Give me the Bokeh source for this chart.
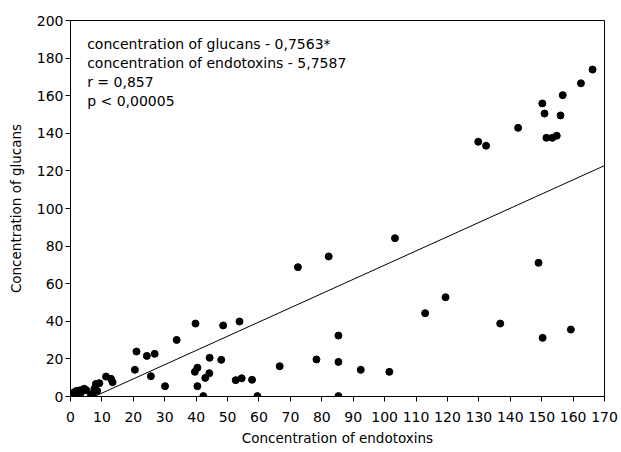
import numpy as np
from bokeh.plotting import figure
from bokeh.models import Range1d, Label, FixedTicker
from bokeh.embed import file_html
from bokeh.resources import INLINE

# ---- data ----
endotoxins = [
    166.2, 162.5, 156.7, 150.2, 150.9, 156.0, 142.5, 129.8, 132.3, 151.5, 153.4, 154.8,
    119.4, 149.0, 136.8, 150.3, 159.3,
    112.9, 85.3, 78.3, 85.3, 66.6, 92.4, 101.5, 57.8, 59.5, 85.3,
    103.3, 82.2, 72.4,
    39.8, 48.6, 53.8, 33.8, 21.0, 24.3, 26.8, 20.5, 25.6, 30.1,
    44.3, 48.0, 39.6, 40.4, 44.2, 42.9, 40.4, 42.3, 52.6, 54.5,
    11.3, 12.9, 13.4, 9.2, 8.1, 7.6, 7.0, 6.5, 8.5, 4.4, 2.8, 1.2,
    0.2, 0.5, 1.5, 2.2, 3.3, 3.8, 2.0, 1.0, 0.8, 5.0,
]
glucans = [
    173.9, 166.6, 160.3, 155.9, 150.5, 149.5, 142.9, 135.5, 133.4, 137.6, 137.6, 138.7,
    52.8, 71.1, 38.8, 31.2, 35.6,
    44.3, 32.4, 19.7, 18.4, 16.1, 14.2, 13.1, 8.9, 0.2, 0.2,
    84.2, 74.5, 68.8,
    38.8, 37.8, 39.9, 30.1, 23.9, 21.6, 22.7, 14.2, 10.8, 5.5,
    20.6, 19.5, 13.1, 15.3, 12.4, 9.9, 5.5, 0.2, 8.7, 9.7,
    10.6, 9.4, 7.6, 7.1, 6.7, 4.1, 1.4, 0.5, 3.0, 4.1, 3.2, 2.3,
    1.4, 0.3, 0.8, 1.5, 2.0, 3.6, 3.0, 1.0, 0.2, 3.3,
]
x_ticks = list(range(0, 171, 10))
y_ticks = list(range(0, 201, 20))
slope = 0.7563
intercept = -5.7587
annotation_lines = [
    "concentration of glucans - 0,7563*",
    "concentration of endotoxins - 5,7587",
    "r = 0,857",
    "p < 0,00005",
]
x_title = "Concentration of endotoxins"
y_title = "Concentration of glucans"

# ---- layout / style ----
FONT = "DejaVu Sans"
X_MIN, X_MAX = 0, 170
Y_MIN, Y_MAX = 0, 200

p = figure(
    width=621, height=452,
    x_range=Range1d(X_MIN, X_MAX), y_range=Range1d(Y_MIN, Y_MAX),
    output_backend="svg", toolbar_location=None,
    min_border_left=70, min_border_right=17, min_border_top=20, min_border_bottom=56,
)
p.outline_line_color = "black"
p.outline_line_width = 1
p.grid.visible = False

for ax in (p.xaxis[0], p.yaxis[0]):
    ax.axis_line_color = "black"
    ax.major_tick_line_color = "black"
    ax.minor_tick_line_color = None
    ax.major_tick_in = 0
    ax.major_tick_out = 5
    ax.major_label_text_font = FONT
    ax.major_label_text_font_size = "14px"
    ax.major_label_text_color = "black"
    ax.axis_label_text_font = FONT
    ax.axis_label_text_font_size = "13.5px"
    ax.axis_label_text_font_style = "normal"
    ax.axis_label_text_color = "black"
p.xaxis[0].ticker = FixedTicker(ticks=x_ticks)
p.yaxis[0].ticker = FixedTicker(ticks=y_ticks)
p.xaxis[0].major_label_standoff = 10
p.yaxis[0].major_label_standoff = 2
p.xaxis[0].axis_label = x_title
p.xaxis[0].axis_label_standoff = 5
p.yaxis[0].axis_label = y_title
p.yaxis[0].axis_label_standoff = 10

# regression line
xs_line = np.array([X_MIN, X_MAX])
p.line(xs_line, slope * xs_line + intercept, line_color="black", line_width=1)

# points
p.scatter(endotoxins, glucans, size=7, marker="circle", fill_color="black", line_color="black")

# annotation text
for i, t in enumerate(annotation_lines):
    p.add_layout(Label(x=5.3, y=187.4 - i * 10.05, text=t, text_font=FONT,
                       text_font_size="14px", text_color="black", text_baseline="middle"))

open("out.html", "w").write(file_html(p, INLINE))
